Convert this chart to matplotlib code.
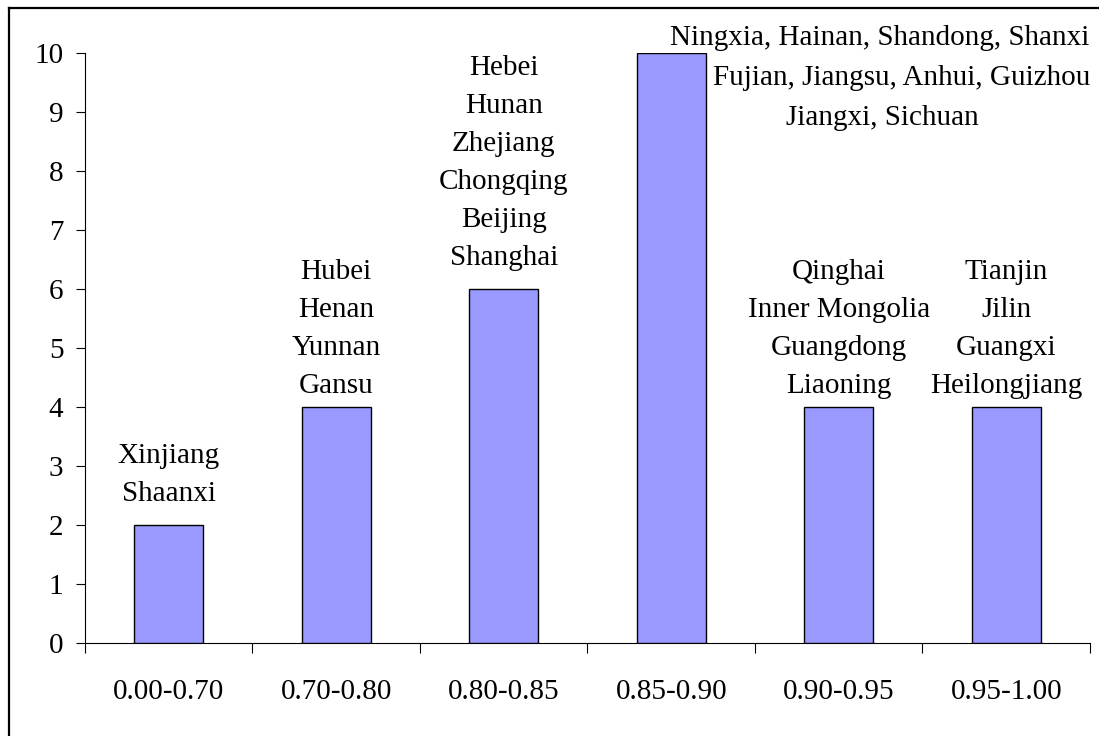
"""Distribusi provinsi per kelas skor — bar chart gaya Excel."""
import matplotlib

matplotlib.use("Agg")
import matplotlib.pyplot as plt
from matplotlib.lines import Line2D

plt.rcParams["font.family"] = ["Liberation Serif", "DejaVu Serif"]

CATEGORIES = ["0.00-0.70", "0.70-0.80", "0.80-0.85", "0.85-0.90", "0.90-0.95", "0.95-1.00"]
COUNTS = [2, 4, 6, 10, 4, 4]
PROVINCES = [
    ["Xinjiang", "Shaanxi"],
    ["Hubei", "Henan", "Yunnan", "Gansu"],
    ["Hebei", "Hunan", "Zhejiang", "Chongqing", "Beijing", "Shanghai"],
    ["Ningxia, Hainan, Shandong, Shanxi", "Fujian, Jiangsu, Anhui, Guizhou", "Jiangxi, Sichuan"],
    ["Qinghai", "Inner Mongolia", "Guangdong", "Liaoning"],
    ["Tianjin", "Jilin", "Guangxi", "Heilongjiang"],
]
Y_TICKS = list(range(0, 11))

FS = 21
fig = plt.figure(figsize=(10.99, 7.36), dpi=100)
ax = fig.add_axes([0.0773, 0.1264, 0.9145, 0.8016])

x = list(range(len(CATEGORIES)))
ax.bar(x, COUNTS, width=0.41, color="#9999FF", edgecolor="black", linewidth=1.0, zorder=3)

ax.set_xlim(-0.5, len(CATEGORIES) - 0.5)
ax.set_ylim(0, 10)
ax.set_yticks(Y_TICKS)
ax.tick_params(axis="y", direction="out", length=6.5, width=0.8, pad=9, labelsize=FS)
ax.set_xticks(x)
ax.set_xticklabels(CATEGORIES)
ax.set_xticks([i - 0.5 for i in range(len(CATEGORIES) + 1)], minor=True)
ax.tick_params(axis="x", which="major", length=0, pad=26, labelsize=FS)
ax.tick_params(axis="x", which="minor", direction="out", length=7, width=0.8)
for s in ("top", "right"):
    ax.spines[s].set_visible(False)
for s in ("left", "bottom"):
    ax.spines[s].set_linewidth(0.8)

# label provinsi di atas batang (offset dalam poin, seperti label manual Excel)
offsets = {0: 13, 1: 6, 2: 13, 4: 6, 5: 6}
for i, off in offsets.items():
    ax.annotate("\n".join(PROVINCES[i]), (x[i], COUNTS[i]), xytext=(0, off),
                textcoords="offset points", ha="center", va="bottom",
                fontsize=FS, linespacing=1.6)

# batang tertinggi: label digeser ke kanan atas
tall = PROVINCES[3]
pos = [(880, 45), (902, 85), (882, 125)]
for line, (px, py) in zip(tall, pos):
    fig.text(px / 1099, 1 - py / 736, line, ha="center", va="baseline", fontsize=FS)

# bingkai luar (kiri & atas terlihat)
fx, fy = 8.5 / 1099, 1 - 8 / 736
fig.add_artist(Line2D([fx, fx], [0, fy], transform=fig.transFigure, color="black", lw=1.6))
fig.add_artist(Line2D([fx, 1], [fy, fy], transform=fig.transFigure, color="black", lw=1.6))

fig.savefig("out.png", dpi=100)
